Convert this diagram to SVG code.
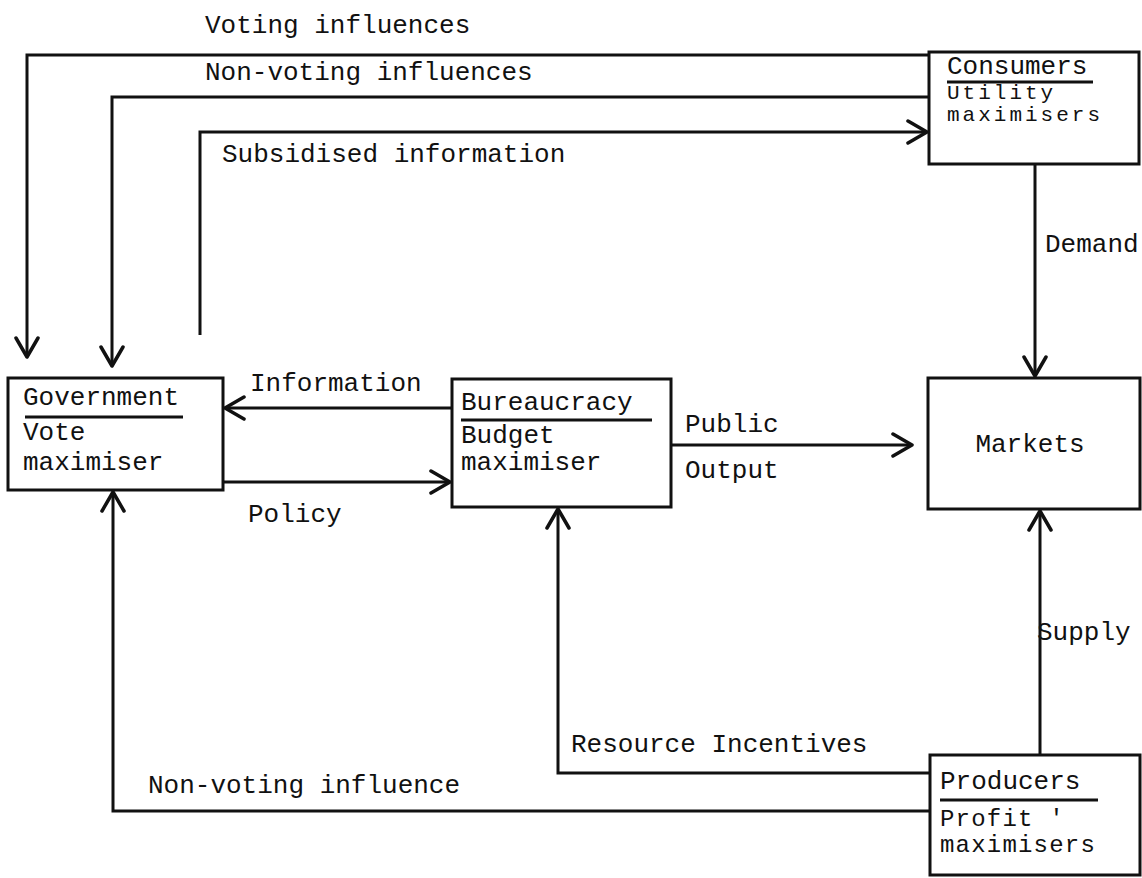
<svg xmlns="http://www.w3.org/2000/svg" width="1142" height="878" viewBox="0 0 1142 878">
<style>
text{font-family:"Liberation Mono","Courier New",monospace;font-size:26px;fill:#111}
.sm{font-size:21px;letter-spacing:3px}
.md{font-size:24px;letter-spacing:1.2px}
.box{fill:#fff;stroke:#111;stroke-width:3}
.ul{stroke:#111;stroke-width:3}
.con{fill:none;stroke:#111;stroke-width:3}
</style>
<defs>
<marker id="ah" viewBox="-22 -14 24 28" markerWidth="24" markerHeight="28" refX="0" refY="0" orient="auto" markerUnits="userSpaceOnUse">
<path d="M-19,-11 L0,0 L-19,11" fill="none" stroke="#111" stroke-width="3.5" stroke-linecap="round" stroke-linejoin="round"/>
</marker>
</defs>
<rect width="1142" height="878" fill="#fff"/>
<g id="connectors">
<path class="con" d="M929,55 H27 V357" marker-end="url(#ah)"/>
<path class="con" d="M929,97 H112 V366" marker-end="url(#ah)"/>
<path class="con" d="M200,335 V132 H927" marker-end="url(#ah)"/>
<path class="con" d="M452,408 H225" marker-end="url(#ah)"/>
<path class="con" d="M223,482 H450" marker-end="url(#ah)"/>
<path class="con" d="M671,445 H912" marker-end="url(#ah)"/>
<path class="con" d="M1035,164 V376" marker-end="url(#ah)"/>
<path class="con" d="M1040,755 V511" marker-end="url(#ah)"/>
<path class="con" d="M930,773 H558 V509" marker-end="url(#ah)"/>
<path class="con" d="M930,811 H113 V492" marker-end="url(#ah)"/>
<text x="205" y="33">Voting influences</text>
<text x="205" y="80">Non-voting influences</text>
<text x="222" y="162">Subsidised information</text>
<text x="250" y="391">Information</text>
<text x="248" y="522">Policy</text>
<text x="685" y="432">Public</text>
<text x="685" y="478">Output</text>
<text x="1045" y="252">Demand</text>
<text x="1037" y="640">Supply</text>
<text x="571" y="752">Resource Incentives</text>
<text x="148" y="793">Non-voting influence</text>
</g>
<g id="consumers">
<rect class="box" x="929" y="52" width="210" height="112"/>
<text x="947" y="74">Consumers</text>
<line class="ul" x1="947" y1="82" x2="1093" y2="82"/>
<text class="sm" x="947" y="99">Utility</text>
<text class="sm" x="947" y="121">maximisers</text>
</g>
<g id="government">
<rect class="box" x="8" y="378" width="215" height="112"/>
<text x="23" y="405">Government</text>
<line class="ul" x1="25" y1="417" x2="183" y2="417"/>
<text x="23" y="440">Vote</text>
<text x="23" y="470">maximiser</text>
</g>
<g id="bureaucracy">
<rect class="box" x="452" y="379" width="219" height="128"/>
<text x="461" y="410">Bureaucracy</text>
<line class="ul" x1="461" y1="420" x2="652" y2="420"/>
<text x="461" y="443">Budget</text>
<text x="461" y="470">maximiser</text>
</g>
<g id="markets">
<rect class="box" x="928" y="378" width="212" height="131"/>
<text x="1030" y="452" text-anchor="middle">Markets</text>
</g>
<g id="producers">
<rect class="box" x="930" y="755" width="210" height="120"/>
<text x="940" y="789">Producers</text>
<line class="ul" x1="940" y1="800" x2="1098" y2="800"/>
<text class="md" x="940" y="826">Profit '</text>
<text class="md" x="940" y="852">maximisers</text>
</g>
</svg>
